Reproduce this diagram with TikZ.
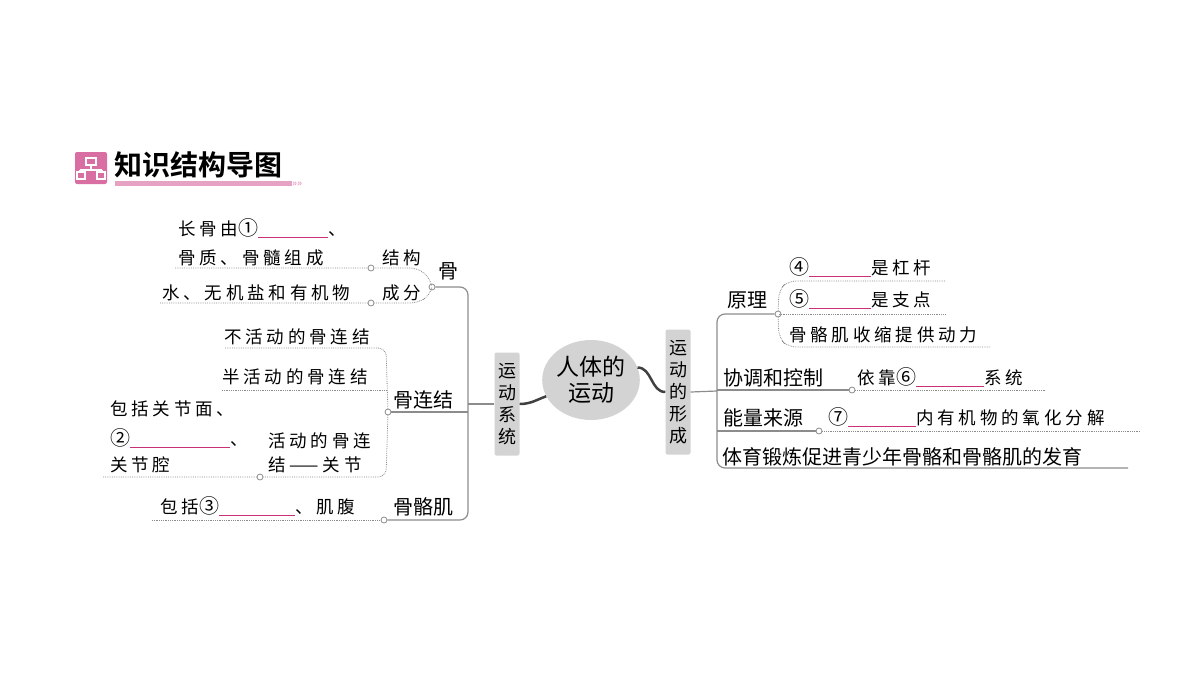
\documentclass[tikz,border=0pt]{standalone}
\usepackage{fontspec}
\setmainfont{Noto Sans CJK SC}
\newfontfamily\cjkb{Noto Sans CJK SC Bold}
\newfontfamily\spfont[LetterSpace=22]{Noto Sans CJK SC}
\usetikzlibrary{shapes.geometric}
\definecolor{pk}{HTML}{C8307A}
\definecolor{lg}{HTML}{D3D3D3}
\definecolor{ln}{HTML}{8C8C8C}
\newcommand{\blank}[1]{\textcolor{pk}{\rule[-3pt]{#1pt}{1.2pt}}}
\newcommand{\cn}[1]{{\fontsize{20}{20}\selectfont #1}}
\tikzset{
 tx/.style={anchor=base west,inner sep=0,font=\spfont\fontsize{17.5}{20}\selectfont},
 sx/.style={anchor=base west,inner sep=0,font=\fontsize{20}{22}\selectfont},
 dot/.style={draw=ln,densely dotted,line width=0.8pt},
 br/.style={draw=ln,line width=1.2pt},
 cir/.style={circle,draw=ln,fill=white,inner sep=0,minimum size=6pt,line width=0.8pt},
 vbox/.style={fill=lg,rounded corners=2pt,inner sep=3pt,align=center,font=\fontsize{18}{22}\selectfont,text width=19pt}
}
\begin{document}
\begin{tikzpicture}[x=1pt,y=-1pt]
\useasboundingbox (0,0) rectangle (1200,675);
% title
\node[fill=pk!70!white,rounded corners=2pt,minimum size=32pt,inner sep=0] (ic) at (91,168) {};
\draw[white,line width=1.5pt] (86,158) rectangle (96,165) (91,165)--(91,170) (80,170)--(102,170) (80,170) -- (80,172) (102,170)--(102,172) (77,172) rectangle (85,179) (97,172) rectangle (105,179);
\node[anchor=west,inner sep=0,font=\cjkb\fontsize{28}{30}\selectfont] (title) at (114,165) {知识结构导图};
\fill[pk!45!white] (115,181) rectangle (292,186);
\node[anchor=west,inner sep=0,text=pk!45!white,font=\bfseries\fontsize{9}{9}\selectfont] (arr) at (292,184) {>>>>};
% centre
\node[ellipse,fill=lg,minimum width=90pt,minimum height=80pt,inner sep=0,align=center,font=\fontsize{23}{26}\selectfont] (c) at (591,380) {人体的\\运动};
\node[vbox,minimum height=103pt] (L) at (507,404) {运\\动\\系\\统};
\node[vbox,minimum height=125pt] (R) at (678,392) {运\\动\\的\\形\\成};
\draw[line width=2.5pt,draw=black!75] (c.200) to[out=200,in=0] (L.east);
\draw[line width=2.5pt,draw=black!75] (c.15) to[out=0,in=180] (R.west);
% left trunk
\coordinate (t1) at (468,404);
\draw[br] (L.west) -- (t1);
\node[cir] (o1) at (432,287) {};
\node[cir] (o2) at (388,412) {};
\node[cir] (o3) at (384,520) {};
\draw[br,rounded corners=8pt] (o1) -- (468,287) -- (468,520) -- (o3);
\draw[br] (468,412) -- (o2);
\node[sx] at (438,278) {骨};
\node[sx] at (393,407) {骨连结};
\node[sx] at (393,514) {骨骼肌};
% bone
\draw[dot,rounded corners=8pt] (175,268) -- (418,268) -- (430,278) -- (o1) -- (430,295) -- (418,303) -- (160,303);
\node[cir] at (371,268) {};
\node[cir] at (371,303) {};
\node[tx] at (178,235) {长骨由\cn{①}\blank{70}、};
\node[tx] at (178,264) {骨质、骨髓组成};
\node[tx] at (382,264) {结构};
\node[tx] at (162,299) {水、无机盐和有机物};
\node[tx] at (382,299) {成分};
% joints
\draw[dot,rounded corners=8pt] (225,348) -- (386,348) -- (o2) -- (386,477) -- (103,477);
\draw[dot] (222,390) -- (386,390);
\node[cir] at (260,477) {};
\node[tx] at (224,343) {不活动的骨连结};
\node[tx] at (222,383) {半活动的骨连结};
\node[tx] at (268,447) {活动的骨连};
\node[tx] at (268,471) {结——关节};
\node[tx] at (110,415) {包括关节面、};
\node[tx] at (110,445) {\cn{②}\blank{100}、};
\node[tx] at (110,471) {关节腔};
% muscle
\draw[dot] (152,520) -- (o3);
\node[tx] at (160,513) {包括\cn{③}\blank{76}、肌腹};
% right trunk
\draw[br] (R.east) -- (717,391);
\node[cir] (p1) at (778,314) {};
\node[cir] (p2) at (852,390) {};
\node[cir] (p3) at (819,431) {};
\draw[br,rounded corners=8pt] (p1) -- (717,314) -- (717,468) -- (1128,468);
\draw[br] (717,390) -- (p2);
\draw[br] (717,431) -- (p3);
\node[sx] at (727,307) {原理};
\node[sx] at (723,385) {协调和控制};
\node[sx] at (723,425) {能量来源};
\node[sx] at (722,464) {体育锻炼促进青少年骨骼和骨骼肌的发育};
\draw[dot,rounded corners=8pt] (945,281) -- (788,281) -- (779,290) -- (p1) -- (779,338) -- (788,347) -- (990,347);
\draw[dot] (779,314) -- (945,314);
\node[tx] at (789,274) {\cn{④}\blank{62}是杠杆};
\node[tx] at (789,306) {\cn{⑤}\blank{62}是支点};
\node[tx] at (789,341) {骨骼肌收缩提供动力};
\draw[dot] (p2) -- (1045,390);
\node[tx] at (857,384) {依靠\cn{⑥}\blank{68}系统};
\draw[dot] (p3) -- (1140,431);
\node[tx] at (828,424) {\cn{⑦}\blank{68}内有机物的氧化分解};
\end{tikzpicture}
\end{document}
